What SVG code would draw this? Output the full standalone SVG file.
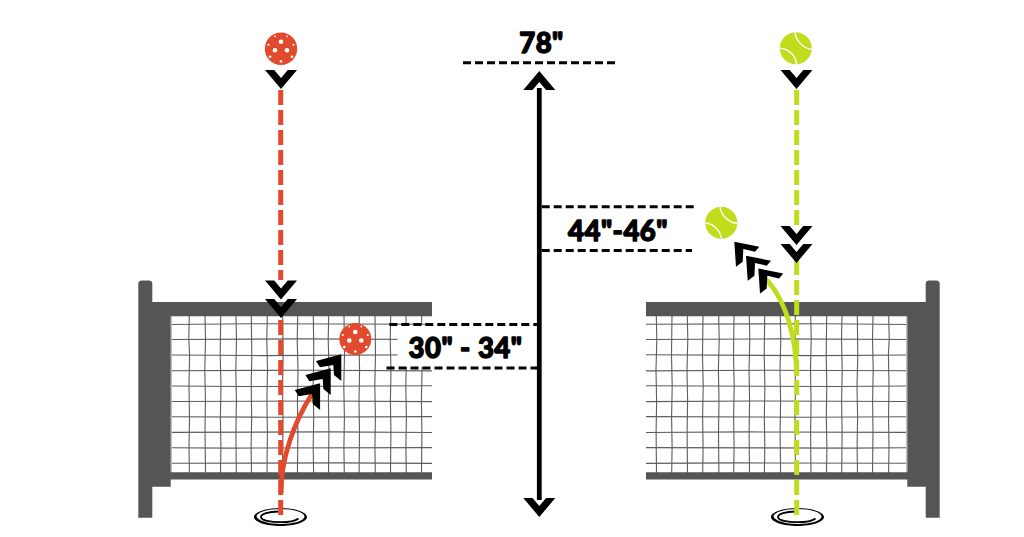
<svg xmlns="http://www.w3.org/2000/svg" xmlns:xlink="http://www.w3.org/1999/xlink" width="1024" height="537" viewBox="0 0 1024 537">
<style>
.gray{fill:#555}
.mesh{fill:none;stroke:#5c5c5c;stroke-width:1.1}
.edge{fill:none;stroke:#bbb;stroke-width:1}
.ch{fill:#000}
.red{fill:#e24a2e}
.grn{fill:#c0dc1c}
.rd{fill:none;stroke:#e24a2e;stroke-width:5;stroke-dasharray:15 5}
.gd{fill:none;stroke:#c0dc1c;stroke-width:5;stroke-dasharray:15 5}
.rc{fill:none;stroke:#e24a2e;stroke-width:4.8}
.gc{fill:none;stroke:#c0dc1c;stroke-width:4.8}
.dim{fill:none;stroke:#000;stroke-width:3;stroke-dasharray:8 4}
.axis{fill:none;stroke:#000;stroke-width:4.8}
.hole{fill:#fff}
.seam{fill:none;stroke:#fff;stroke-width:1.4}
.lbl{font-family:"Lato","Open Sans",sans-serif;font-weight:900;font-size:27.5px;fill:#000;stroke:#000;stroke-width:1.3;stroke-linejoin:round;letter-spacing:.5px}
</style>
<defs>
<path id="chev" class="ch" d="M-16,0H-6.8L0,8L6.8,0H16L0,19Z"/>
<path id="arrR" class="ch" d="M341.3,354.3V381L334,375L333.3,365L320,367.3L316,361Z"/>
<path id="arrG" class="ch" d="M734.3,241.7L759.3,246.7L755,251.7L743.3,249L742.7,261.7L736,266.7Z"/>
<g id="rip">
<path fill="#000" fill-rule="evenodd" d="M-26.5,0C-26.5,-5 -14,-9 0,-9C14,-9 26.5,-5 26.5,0C26.5,5 14,9 0,9C-14,9 -26.5,5 -26.5,0ZM-24,-0.5C-23,3.5 -12,7 0,7C13,7 24,4 24,-0.5C24,-4.5 13,-8 0,-8C-13,-8 -24,-4.5 -24,-0.5Z"/>
<path fill="none" stroke="#000" stroke-width="1.8" d="M-2,-5.5C-12,-5.5 -19.5,-3 -19.5,0C-19.5,3.5 -10,5.2 0,5.2C9,5.2 15,3.8 18,1.5"/>
</g>
<g id="frame">
<path class="mesh" d="M189.3,316L188.8,339L189.6,355L189,386L189.5,417L189,447L189.4,473M205,316L205.5,339L204.8,370L205.4,401L205,432L205.5,473M220.7,316L220.2,355L221,386L220.4,417L220.9,447L220.5,473M236,316L236.5,339L235.8,370L236.4,401L235.9,432L236.3,473M251.3,316L251.8,355L251.2,386L251.7,417L251.1,447L251.5,473M267.3,316L266.8,339L267.5,370L266.9,401L267.4,432L267,473M282.7,316L283.1,355L282.5,386L283,417L282.5,473M297.7,316L297.2,339L298,370L297.4,401L297.9,432L297.4,473M313.3,316L313.8,355L313.1,386L313.7,417L313.2,447L313.6,473M328.7,316L328.2,339L329,370L328.4,401L328.9,432L328.5,473M344,316L344.5,355L343.8,386L344.4,417L343.9,447L344.3,473M359.3,316L358.8,339L359.6,370L359,401L359.5,432L359.1,473M375,316L375.5,355L374.8,386L375.4,417L374.9,447L375.3,473M390.7,316L390.2,339L391,370L390.4,401L390.9,432L390.5,473M406,316L406.5,355L405.8,386L406.4,417L405.9,447L406.3,473M421.7,316L421.2,339L422,370L421.4,401L421.9,432L421.5,473"/>
<path class="mesh" d="M171,324.5L250,323.7L432,324.3M171,339.5L300,338.9L432,339.5M171,355L260,355.6L432,354.8M171,370.7L310,370.2L432,370.9M171,386L240,386.5L432,385.8M171,401.5L320,401L432,401.6M171,416.7L270,417.2L432,416.6M171,432.4L330,431.9L432,432.5M171,447.7L230,448.1L432,447.6M171,463.3L340,462.9L432,463.4"/>
<path class="edge" d="M171.5,316V473"/>
<path class="gray" d="M138.3,284a3.5,3.5 0 0 1 3.5,-3.5h7a3.5,3.5 0 0 1 3.5,3.5V302H432V316.2H170.7V472.3H432V479.4H170.7V486.8H152.3V517.8H138.3Z"/>
</g>
</defs>

<g id="net-left">
<use xlink:href="#frame" href="#frame"/>
<rect x="397.5" y="325.5" width="40" height="41.5" fill="#fff"/>
</g>
<g id="net-right">
<use xlink:href="#frame" href="#frame" transform="matrix(-1 0 0 1 1078 0)"/>
</g>

<g id="ripple-left"><use xlink:href="#rip" href="#rip" transform="translate(280.5,517)"/></g>
<g id="ripple-right"><use xlink:href="#rip" href="#rip" transform="translate(797.5,517)"/></g>

<g id="connectors">
<path class="rd" d="M280.7,90V280"/>
<path class="rd" d="M280.7,320V515"/>
<path class="gd" d="M796.7,90V225"/>
<path class="gd" d="M796.7,260V515"/>
<path class="rc" d="M281,493C281,458 294,422 312,394"/>
<path class="red" d="M310,392.7L314,395.3L314.5,390.5Z"/>
<path class="gc" d="M796.7,376C796,335 786,303 768,281"/>
<path class="grn" d="M769.85,279.5L766.15,282.5L764.8,276.5Z"/>
<g id="red-falling-arrows">
<use xlink:href="#chev" href="#chev" transform="translate(281,70)"/>
<use xlink:href="#chev" href="#chev" transform="translate(281,280.5)"/>
<use xlink:href="#chev" href="#chev" transform="translate(281,299)"/>
</g>
<g id="green-falling-arrows">
<use xlink:href="#chev" href="#chev" transform="translate(796.5,70)"/>
<use xlink:href="#chev" href="#chev" transform="translate(796.5,226)"/>
<use xlink:href="#chev" href="#chev" transform="translate(796.5,244)"/>
</g>
<g id="red-bounce-arrows">
<use xlink:href="#arrR" href="#arrR"/>
<use xlink:href="#arrR" href="#arrR" transform="translate(-10.6,14)"/>
<use xlink:href="#arrR" href="#arrR" transform="translate(-21.2,29)"/>
</g>
<g id="green-bounce-arrows">
<use xlink:href="#arrG" href="#arrG"/>
<use xlink:href="#arrG" href="#arrG" transform="translate(11.7,14)"/>
<use xlink:href="#arrG" href="#arrG" transform="translate(24,26.7)"/>
</g>
</g>

<g id="height-scale">
<path class="axis" d="M539.3,88V500"/>
<use xlink:href="#chev" href="#chev" transform="translate(539.3,90) scale(1,-1)"/>
<use xlink:href="#chev" href="#chev" transform="translate(539.3,498)"/>
<path class="dim" d="M463,62.7H616"/>
<path class="dim" d="M541.7,206.8H695"/>
<path class="dim" d="M541.7,250.4H692"/>
<path class="dim" d="M389.3,324.4H541"/>
<path class="dim" d="M386.5,368H537"/>
</g>

<g id="ball-red-top"><circle class="red" cx="281" cy="48.8" r="16.2"/>
<g transform="translate(281,48.8)"><circle class="hole" cy="-7" r="2.3"/><circle class="hole" cx="-6" cy="1.5" r="2.3"/><circle class="hole" cx="6" cy="1.5" r="2.3"/><circle class="hole" cx="-12.5" cy="-4" r="1.1"/><circle class="hole" cx="12.5" cy="-4" r="1.1"/><circle class="hole" cx="-11" cy="8" r="1.3"/><circle class="hole" cx="11" cy="8" r="1.3"/><circle class="hole" cy="12.5" r="1.3"/><circle class="hole" cx="-6" cy="-12.5" r=".9"/><circle class="hole" cx="6" cy="-12.5" r=".9"/></g></g>
<g id="ball-red-low"><circle class="red" cx="355.3" cy="339" r="16"/>
<g transform="translate(355.3,339)"><circle class="hole" cy="-7" r="2.3"/><circle class="hole" cx="-6" cy="1.5" r="2.3"/><circle class="hole" cx="6" cy="1.5" r="2.3"/><circle class="hole" cx="-12.5" cy="-4" r="1.1"/><circle class="hole" cx="12.5" cy="-4" r="1.1"/><circle class="hole" cx="-11" cy="8" r="1.3"/><circle class="hole" cx="11" cy="8" r="1.3"/><circle class="hole" cy="12.5" r="1.3"/><circle class="hole" cx="-6" cy="-12.5" r=".9"/><circle class="hole" cx="6" cy="-12.5" r=".9"/></g></g>
<g id="ball-green-top"><circle class="grn" cx="795.8" cy="48.2" r="16"/>
<path class="seam" d="M795,32.5C796,41 803,48 811.6,49.5M780,48.2C788,48.5 795.5,55 796.5,64"/></g>
<g id="ball-green-low"><circle class="grn" cx="721.3" cy="222.7" r="16"/>
<path class="seam" d="M720,207C721,215 728,222 737,223.5M705.5,223C713,223.5 720,230 721.5,238.5"/></g>

<g id="labels">
<text class="lbl" x="541.5" y="53" text-anchor="middle">78"</text>
<text class="lbl" x="618" y="241" text-anchor="middle">44"-46"</text>
<text class="lbl" x="465.5" y="358" text-anchor="middle">30" - 34"</text>
</g>
</svg>
